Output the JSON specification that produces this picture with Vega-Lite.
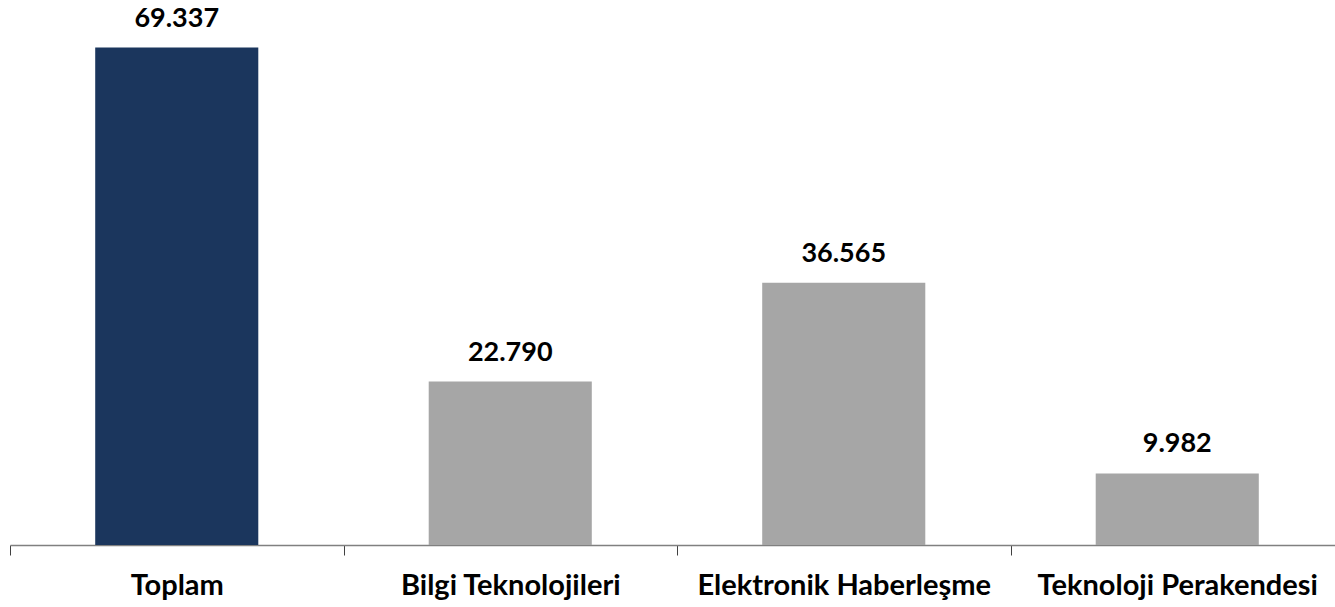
{
  "$schema": "https://vega.github.io/schema/vega-lite/v6.json",
  "autosize": "none",
  "padding": {"left": 10, "top": 7, "right": 0, "bottom": 62},
  "width": 1334,
  "height": 538,
  "background": "white",
  "config": {
    "view": {"stroke": null},
    "locale": {"number": {"decimal": ",", "thousands": ".", "grouping": [3], "currency": ["", " ₺"]}}
  },
  "data": {
    "values": [
      {"kategori": "Toplam", "deger": 69337, "grup": "toplam"},
      {"kategori": "Bilgi Teknolojileri", "deger": 22790, "grup": "alt"},
      {"kategori": "Elektronik Haberleşme", "deger": 36565, "grup": "alt"},
      {"kategori": "Teknoloji Perakendesi", "deger": 9982, "grup": "alt"}
    ]
  },
  "encoding": {
    "x": {
      "field": "kategori",
      "type": "nominal",
      "sort": null,
      "scale": {"paddingInner": 0, "paddingOuter": 0},
      "axis": {
        "title": null,
        "labelAngle": 0,
        "labelFont": "Lato",
        "labelFontWeight": "bold",
        "labelFontSize": 29,
        "labelColor": "#000000",
        "labelPadding": 16,
        "labelLimit": 400,
        "tickBand": "extent",
        "tickSize": 10,
        "tickColor": "#404040",
        "domainColor": "#808080",
        "domainWidth": 1.5
      }
    },
    "y": {
      "field": "deger",
      "type": "quantitative",
      "scale": {"domain": [0, 75000], "nice": false},
      "axis": null
    }
  },
  "layer": [
    {
      "mark": {"type": "bar", "width": {"band": 0.489}},
      "encoding": {
        "color": {
          "field": "grup",
          "type": "nominal",
          "scale": {"domain": ["toplam", "alt"], "range": ["#1B365D", "#A6A6A6"]},
          "legend": null
        }
      }
    },
    {
      "mark": {"type": "text", "baseline": "alphabetic", "dy": -21, "font": "Lato", "fontWeight": "bold", "fontSize": 27, "color": "#000000"},
      "encoding": {
        "text": {"field": "deger", "type": "quantitative", "format": ",d"}
      }
    }
  ]
}
